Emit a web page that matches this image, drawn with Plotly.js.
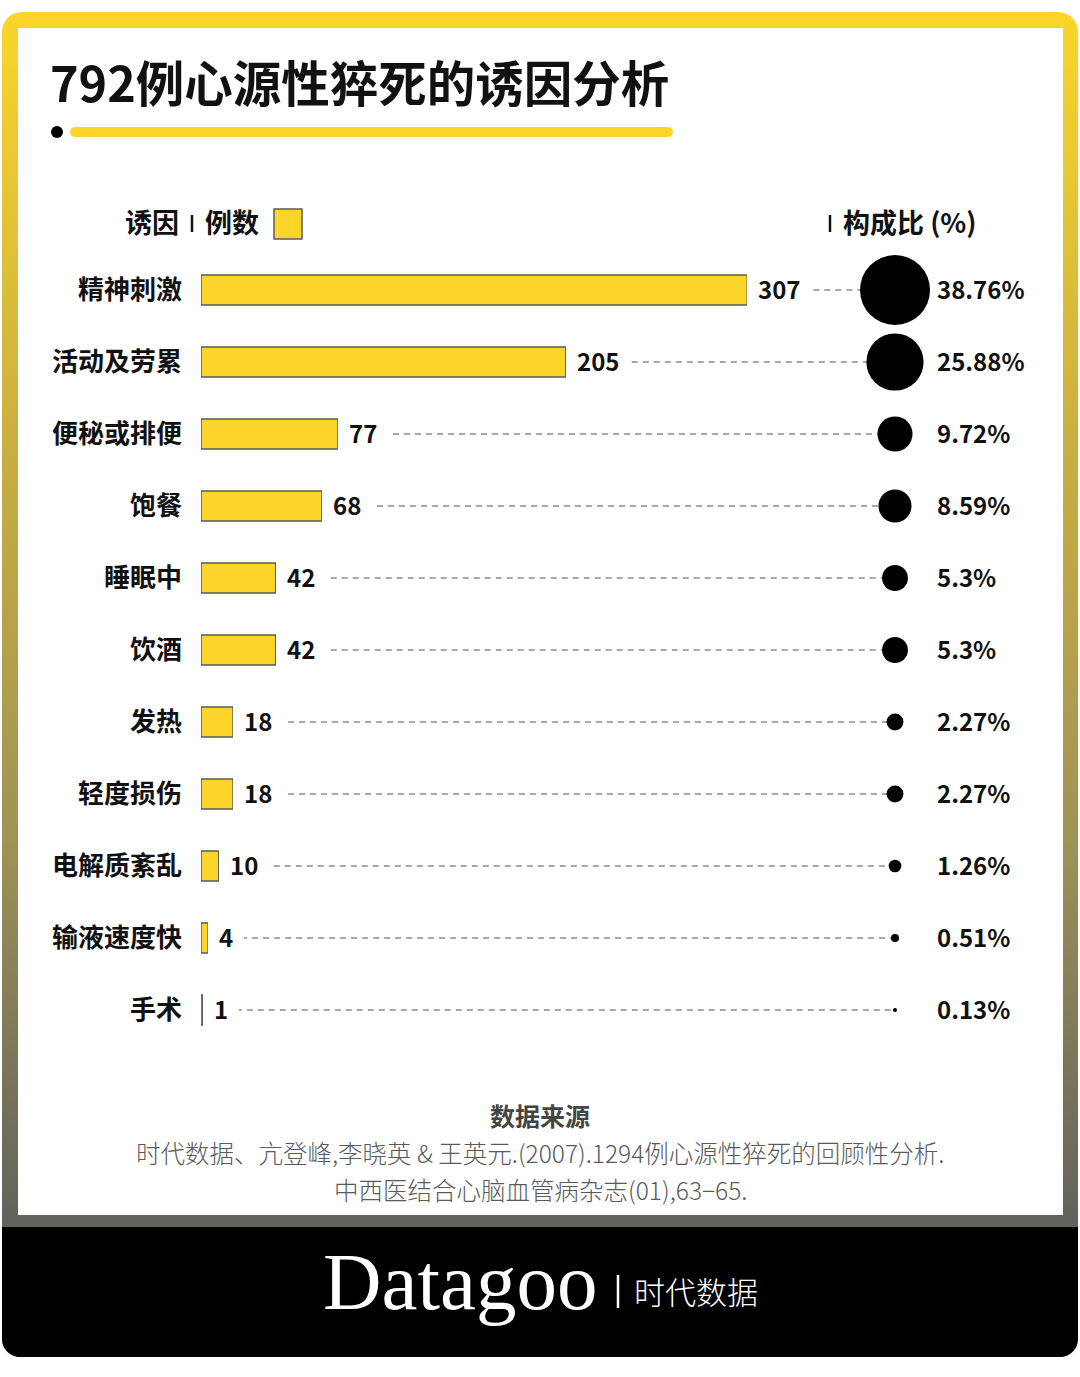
<!DOCTYPE html>
<html>
<head>
<meta charset="utf-8">
<script src="https://cdn.plot.ly/plotly-3.0.1.min.js"></script>
<style>
  html, body { margin: 0; padding: 0; background: #ffffff; }
  #wrap { position: relative; width: 1080px; height: 1377px; overflow: hidden; background: #ffffff; }
  #frame { position: absolute; left: 2px; top: 12px; width: 1076px; height: 1345px; border-radius: 20px;
    background: linear-gradient(to bottom, #FAD62A 0px, #CBB040 418px, #A09455 818px, #63635E 1203px, #63635E 1345px); }
  #inner { position: absolute; left: 18px; top: 28px; width: 1045px; height: 1187px; background: #ffffff; }
  #foot { position: absolute; left: 2px; top: 1227px; width: 1076px; height: 130px; background: #000000;
    border-radius: 0 0 18px 18px; }
  #chart { position: absolute; left: 0; top: 0; width: 1080px; height: 1377px; }
</style>
</head>
<body>
<div id="wrap">
  <div id="frame"></div>
  <div id="inner"></div>
  <div id="foot"></div>
  <div id="chart"></div>
</div>
<script>
// ---- data ----
const categories = ["精神刺激", "活动及劳累", "便秘或排便", "饱餐", "睡眠中", "饮酒", "发热", "轻度损伤", "电解质紊乱", "输液速度快", "手术"];
const cases = [307, 205, 77, 68, 42, 42, 18, 18, 10, 4, 1];
const shares = [38.76, 25.88, 9.72, 8.59, 5.3, 5.3, 2.27, 2.27, 1.26, 0.51, 0.13];
const titleText = "792例心源性猝死的诱因分析";
const headerLeft = ["诱因", "例数"];
const headerRight = "构成比 (%)";
const sourceTitle = "数据来源";
const sourceLines = ["时代数据、亢登峰,李晓英 & 王英元.(2007).1294例心源性猝死的回顾性分析.", "中西医结合心脑血管病杂志(01),63−65."];
const brand = "Datagoo";
const brandCn = "时代数据";

// ---- layout helpers ----
const W = 1080, H = 1377;
const px = x => x / W;
const py = y => 1 - y / H;
const CJK = '"Noto Sans CJK SC", "Noto Sans", sans-serif';
const YELLOW = '#FCD52B';
const AXIS_MAX = 390;      // axis units at the right end, where the dot column sits
const DOT_MAX_PX = 70;

// bars
const barTrace = {
  type: 'bar', orientation: 'h', x: cases, y: categories, width: 0.42,
  marker: { color: YELLOW, line: { color: '#5a5a5a', width: 1.5 } },
  hoverinfo: 'none', cliponaxis: false
};

// dashed leader lines from bar end to dot
const lx = [], ly = [];
categories.forEach((c, i) => { lx.push(cases[i], AXIS_MAX, null); ly.push(c, c, null); });
const leaderTrace = {
  type: 'scatter', mode: 'lines', x: lx, y: ly,
  line: { color: '#8c8c8c', width: 1.5, dash: '6px,5px' },
  hoverinfo: 'none', cliponaxis: false
};

// dots sized by share (area)
const dotTrace = {
  type: 'scatter', mode: 'markers', x: categories.map(() => AXIS_MAX), y: categories,
  marker: { color: '#000000', opacity: 1, size: shares, sizemode: 'area',
    sizeref: 2 * Math.max(...shares) / (DOT_MAX_PX * DOT_MAX_PX), line: { width: 0 } },
  hoverinfo: 'none', cliponaxis: false
};

const annotations = [];
// value labels (white box masks the start of the leader line)
categories.forEach((c, i) => {
  annotations.push({ xref: 'x', yref: 'y', x: cases[i], y: c, xanchor: 'left', yanchor: 'middle',
    xshift: 0, yshift: 2, text: String(cases[i]), showarrow: false, bgcolor: '#ffffff', borderpad: 11, borderwidth: 0,
    font: { family: CJK, size: 24, color: '#111111', weight: 700 } });
  annotations.push({ xref: 'paper', yref: 'y', x: px(935), y: c, xanchor: 'left', yanchor: 'middle',
    yshift: 2, text: String(shares[i]) + '%', showarrow: false,
    font: { family: CJK, size: 24, color: '#111111', weight: 700 } });
});
// header
annotations.push({ xref: 'paper', yref: 'paper', x: px(181), y: py(222), xanchor: 'right', yanchor: 'middle',
  text: headerLeft[0], showarrow: false, font: { family: CJK, size: 27, color: '#111111', weight: 700 } });
annotations.push({ xref: 'paper', yref: 'paper', x: px(203), y: py(222), xanchor: 'left', yanchor: 'middle',
  text: headerLeft[1], showarrow: false, font: { family: CJK, size: 27, color: '#111111', weight: 700 } });
annotations.push({ xref: 'paper', yref: 'paper', x: px(841), y: py(222), xanchor: 'left', yanchor: 'middle',
  text: headerRight, showarrow: false, font: { family: CJK, size: 27, color: '#111111', weight: 700 } });
// source
annotations.push({ xref: 'paper', yref: 'paper', x: 0.5, y: py(1115), xanchor: 'center', yanchor: 'middle',
  text: sourceTitle, showarrow: false, font: { family: CJK, size: 25, color: '#444444', weight: 700 } });
sourceLines.forEach((t, i) => {
  annotations.push({ xref: 'paper', yref: 'paper', x: 0.5, y: py(1152 + 37 * i), xanchor: 'center', yanchor: 'middle',
    text: t, showarrow: false, font: { family: CJK, size: 24.5, color: '#5a5a5a', weight: 300 } });
});
// footer brand
annotations.push({ xref: 'paper', yref: 'paper', x: px(321), y: py(1282), xanchor: 'left', yanchor: 'middle',
  text: brand, showarrow: false, font: { family: '"Liberation Serif", "DejaVu Serif", serif', size: 81, color: '#ffffff' } });
annotations.push({ xref: 'paper', yref: 'paper', x: px(632), y: py(1290), xanchor: 'left', yanchor: 'middle',
  text: brandCn, showarrow: false, font: { family: CJK, size: 31, color: '#ffffff', weight: 300 } });

const shapes = [
  // title underline
  { type: 'circle', xref: 'paper', yref: 'paper', x0: px(51), x1: px(63), y0: py(126), y1: py(138), fillcolor: '#000000', line: { width: 0 } },
  { type: 'rect', xref: 'paper', yref: 'paper', x0: px(75), x1: px(668), y0: py(127), y1: py(137), fillcolor: YELLOW, line: { width: 0 } },
  { type: 'circle', xref: 'paper', yref: 'paper', x0: px(70), x1: px(80), y0: py(127), y1: py(137), fillcolor: YELLOW, line: { width: 0 } },
  { type: 'circle', xref: 'paper', yref: 'paper', x0: px(663), x1: px(673), y0: py(127), y1: py(137), fillcolor: YELLOW, line: { width: 0 } },
  // header separators and legend swatch
  { type: 'line', xref: 'paper', yref: 'paper', x0: px(192), x1: px(192), y0: py(215), y1: py(232), line: { color: '#111111', width: 2.5 } },
  { type: 'rect', xref: 'paper', yref: 'paper', x0: px(274), x1: px(302), y0: py(209), y1: py(239), fillcolor: YELLOW, line: { color: '#5a5a5a', width: 1.5 } },
  { type: 'line', xref: 'paper', yref: 'paper', x0: px(830), x1: px(830), y0: py(215), y1: py(232), line: { color: '#111111', width: 2.5 } },
  // footer separator
  { type: 'line', xref: 'paper', yref: 'paper', x0: px(618), x1: px(618), y0: py(1275), y1: py(1308), line: { color: '#ffffff', width: 2.5 } }
];

const layout = {
  width: W, height: H,
  margin: { l: 0, r: 0, t: 0, b: 0, pad: 0 },
  paper_bgcolor: 'rgba(0,0,0,0)', plot_bgcolor: 'rgba(0,0,0,0)',
  showlegend: false,
  title: { text: titleText, x: px(50), xanchor: 'left', xref: 'paper', y: py(85), yanchor: 'middle', yref: 'paper',
    font: { family: CJK, size: 48.5, color: '#111111', weight: 700 } },
  xaxis: { domain: [px(201), px(895)], range: [0, AXIS_MAX], autorange: false, showgrid: false, zeroline: false,
    showline: false, showticklabels: false, ticks: '', fixedrange: true },
  yaxis: { domain: [py(1046), py(254)], type: 'category', categoryorder: 'array', categoryarray: categories,
    range: [categories.length - 0.5, -0.5], autorange: false, showgrid: false, zeroline: false, showline: false,
    ticks: '', ticklabelstandoff: 18, tickfont: { family: CJK, size: 26, color: '#111111', weight: 700 }, fixedrange: true },
  annotations: annotations,
  shapes: shapes
};

Plotly.newPlot('chart', [leaderTrace, barTrace, dotTrace], layout, { staticPlot: true, displayModeBar: false });
</script>
</body>
</html>
